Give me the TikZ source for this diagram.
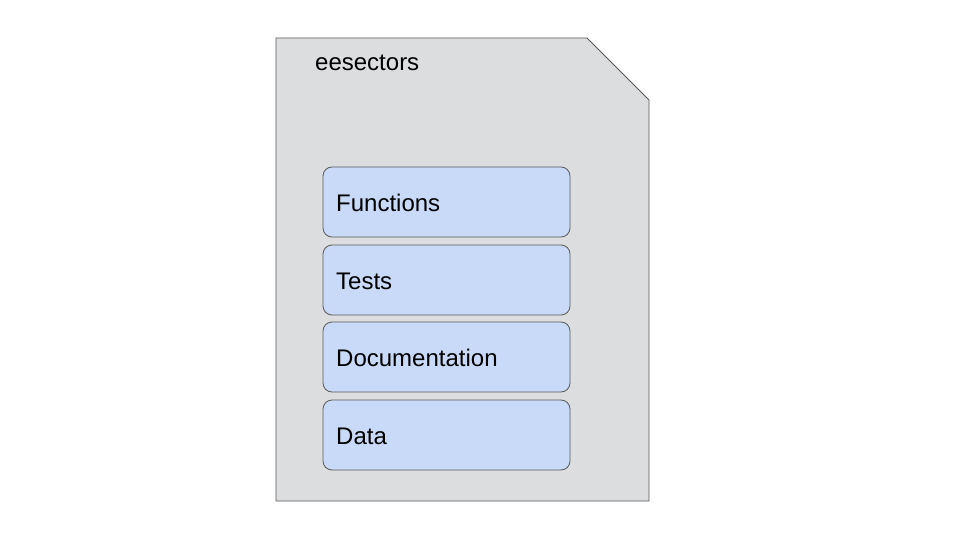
\documentclass[tikz,border=0pt]{standalone}
\usepackage{fontspec}
\setmainfont{Liberation Sans}
\definecolor{docfill}{HTML}{DCDDDF}
\definecolor{boxfill}{HTML}{C9DAF8}
\definecolor{edge}{HTML}{595959}
\begin{document}
\begin{tikzpicture}[x=1pt,y=-1pt,
  part/.style={draw=edge,line width=0.8pt,fill=boxfill,rounded corners=9pt,
    minimum width=247pt,minimum height=70pt,inner sep=0pt},
  lbl/.style={font=\fontsize{24}{28}\selectfont,anchor=west,inner sep=0pt}]
\useasboundingbox (0,0) rectangle (960,540);
\draw[edge,line width=0.8pt,fill=docfill] (276,38) -- (587,38) -- (649,100) -- (649,501) -- (276,501) -- cycle;
\node[lbl] (title) at (315,63) {eesectors};
\node[part] (f) at (446.5,202) {};
\node[part] (t) at (446.5,280) {};
\node[part] (d) at (446.5,357) {};
\node[part] (a) at (446.5,435) {};
\node[lbl] (fl) at (336,203) {Functions};
\node[lbl] (tl) at (336,281) {Tests};
\node[lbl] (dl) at (336,358) {Documentation};
\node[lbl] (al) at (336,436) {Data};
\end{tikzpicture}
\end{document}
